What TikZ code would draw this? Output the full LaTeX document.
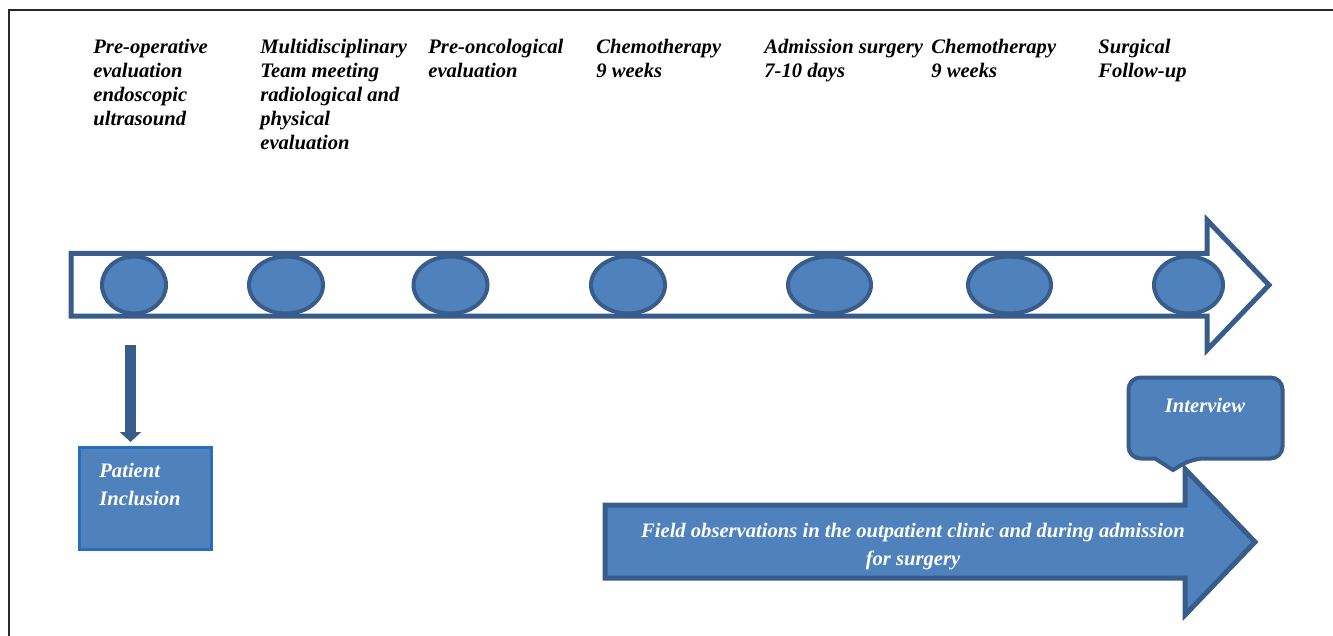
\documentclass[tikz,border=0pt]{standalone}
\usepackage{fontspec}
\setmainfont{Liberation Serif}
\usetikzlibrary{shapes.geometric,arrows.meta}
\definecolor{ofill}{HTML}{4F81BD}
\definecolor{oline}{HTML}{385D8A}
\definecolor{pline}{HTML}{2A6EBB}
\definecolor{frame}{HTML}{2A2A2A}
\begin{document}
\begin{tikzpicture}[x=0.5pt,y=-0.5pt,
  lab/.style={anchor=north west,inner sep=0pt,align=left,
    font=\fontsize{10.3}{12}\selectfont\bfseries\itshape},
  wlab/.style={inner sep=0pt,text=white,
    font=\fontsize{10.3}{14}\selectfont\bfseries\itshape},
  dot/.style={ellipse,draw=oline,fill=ofill,line width=2pt,inner sep=0pt,minimum height=28.5pt},
  blockline/.style={draw=oline,line width=2.5pt,line join=miter},
]
\useasboundingbox (0,0) rectangle (1333,636);
% frame
\draw[frame,line width=0.8pt] (9,636) -- (9,10) -- (1333,10);

% timeline arrow
\draw[blockline,fill=white] (71,253.5) -- (1207,253.5) -- (1207,220) -- (1269,285)
  -- (1207,350) -- (1207,316) -- (71,316) -- cycle;

% ellipses
\node[dot,minimum width=32pt]   (e1) at (134,285) {};
\node[dot,minimum width=37pt]   (e2) at (286,285) {};
\node[dot,minimum width=37pt]   (e3) at (450.5,285) {};
\node[dot,minimum width=37pt]   (e4) at (628,285) {};
\node[dot,minimum width=41.5pt] (e5) at (829.5,285) {};
\node[dot,minimum width=41.5pt] (e6) at (1009.5,285) {};
\node[dot,minimum width=34.5pt] (e7) at (1188.5,285) {};

% top labels
\node[lab] (t1) at (93,36.2)   {\strut Pre-operative\\evaluation\\endoscopic\\ultrasound};
\node[lab] (t2) at (260,36.2)  {\strut Multidisciplinary\\Team meeting\\radiological and\\physical\\evaluation};
\node[lab] (t3) at (428,36.2)  {\strut Pre-oncological\\evaluation};
\node[lab] (t4) at (596,36.2)  {\strut Chemotherapy\\9 weeks};
\node[lab] (t5) at (764,36.2)  {\strut Admission surgery\\7-10 days};
\node[lab] (t6) at (931,36.2)  {\strut Chemotherapy\\9 weeks};
\node[lab] (t7) at (1098,36.2) {\strut Surgical\\Follow-up};

% patient inclusion
\node[draw=pline,fill=ofill,line width=1.5pt,minimum width=66pt,minimum height=51pt,inner sep=0pt] (pbox) at (145.5,498.5) {};
\node[wlab,anchor=base west,align=left] (ptext) at (99,505) {Patient\\Inclusion};

% down arrow
\coordinate (dtop) at (130.5,345);
\coordinate (dtip) at (130.5,442);
\draw[oline,line width=5.5pt,-{Triangle[length=5pt,width=10.5pt]}] (dtop) -- (dtip);

% big arrow
\draw[blockline,fill=ofill] (605,505) -- (1185,505) -- (1185,469) -- (1255,542)
  -- (1185,615) -- (1185,578) -- (605,578) -- cycle;
\node[wlab,align=center,anchor=base] (ftext) at (913,565)
  {Field observations in the outpatient clinic and during admission\\for surgery};

% interview callout
\draw[draw=oline,fill=ofill,line width=2pt]
  (1155,458.5) [rounded corners=6pt] -- (1128.5,458.5) -- (1128.5,377.5) -- (1282.5,377.5)
  -- (1282.5,458.5) -- (1192,458.5) [sharp corners] -- (1173,470) -- cycle;
\node[wlab,anchor=base] (itext) at (1205,412) {Interview};
\end{tikzpicture}
\end{document}
